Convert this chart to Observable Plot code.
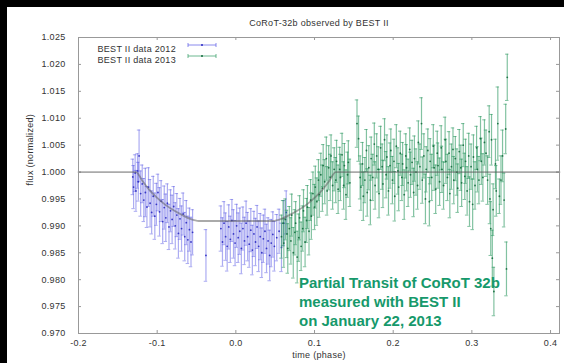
<!DOCTYPE html>
<html>
<head>
<meta charset="utf-8">
<script src="https://cdn.jsdelivr.net/npm/d3@7"></script>
<script src="https://cdn.jsdelivr.net/npm/@observablehq/plot@0.6"></script>
<style>
  html, body { margin: 0; padding: 0; background: #000; width: 564px; height: 363px; overflow: hidden; }
  #wrap { position: absolute; left: 7px; top: 7px; width: 557px; height: 356px; background: #fff; }
  #wrap svg text { letter-spacing: 0.3px; }
  #note { position: absolute; left: 292px; top: 266px; font-family: "Liberation Sans", Arial, sans-serif;
          font-weight: bold; font-size: 15px; line-height: 19px; color: #16996b; white-space: pre; }
</style>
</head>
<body>
<div id="wrap"></div>
<script>
const titleText = "CoRoT-32b observed by BEST II";
const xLabel = "time (phase)";
const yLabel = "flux (normalized)";
const seriesNames = ["BEST II data 2012", "BEST II data 2013"];
const noteText = "Partial Transit of CoRoT 32b\nmeasured with BEST II\non January 22, 2013";
const xTicks = [-0.2, -0.1, 0.0, 0.1, 0.2, 0.3, 0.4];
const yTicks = [0.970, 0.975, 0.980, 0.985, 0.990, 0.995, 1.000, 1.005, 1.010, 1.015, 1.020, 1.025];

// [phase, flux, error]
const data2012 = [
[-0.131,0.9991,0.0033],[-0.130,0.9972,0.0040],[-0.128,0.9998,0.0034],[-0.127,0.9965,0.0038],
[-0.125,1.0002,0.0032],[-0.124,0.9982,0.0036],[-0.123,1.0030,0.0048],[-0.121,0.9960,0.0042],
[-0.119,0.9978,0.0035],[-0.117,0.9948,0.0040],[-0.115,0.9962,0.0045],[-0.113,0.9935,0.0038],
[-0.111,0.9972,0.0036],[-0.109,0.9942,0.0044],[-0.107,0.9925,0.0040],[-0.105,0.9955,0.0037],
[-0.103,0.9918,0.0043],[-0.101,0.9940,0.0039],[-0.099,0.9962,0.0034],[-0.097,0.9926,0.0045],
[-0.095,0.9946,0.0038],[-0.093,0.9908,0.0041],[-0.091,0.9934,0.0040],[-0.089,0.9915,0.0044],
[-0.087,0.9942,0.0036],[-0.085,0.9898,0.0042],[-0.083,0.9928,0.0039],[-0.081,0.9912,0.0045],
[-0.079,0.9936,0.0037],[-0.077,0.9900,0.0043],[-0.075,0.9920,0.0040],[-0.073,0.9886,0.0046],
[-0.071,0.9913,0.0038],[-0.069,0.9895,0.0042],[-0.067,0.9922,0.0039],[-0.065,0.9880,0.0045],
[-0.063,0.9906,0.0041],[-0.061,0.9874,0.0044],[-0.059,0.9893,0.0040],[-0.057,0.9870,0.0046],
[-0.055,0.9888,0.0042],[-0.038,0.9845,0.0048],
[-0.019,0.9895,0.0042],[-0.017,0.9870,0.0045],[-0.015,0.9905,0.0040],[-0.013,0.9880,0.0044],
[-0.011,0.9862,0.0046],[-0.009,0.9898,0.0041],[-0.007,0.9875,0.0043],[-0.005,0.9910,0.0039],
[-0.003,0.9885,0.0045],[-0.001,0.9868,0.0042],[0.001,0.9900,0.0040],[0.003,0.9878,0.0046],
[0.005,0.9890,0.0043],[0.007,0.9858,0.0047],[0.009,0.9895,0.0040],[0.011,0.9872,0.0044],
[0.013,0.9905,0.0041],[0.015,0.9880,0.0045],[0.017,0.9866,0.0043],[0.019,0.9892,0.0040],
[0.021,0.9855,0.0046],[0.023,0.9885,0.0042],[0.025,0.9870,0.0044],[0.027,0.9898,0.0040],
[0.029,0.9862,0.0047],[0.031,0.9880,0.0043],[0.033,0.9850,0.0046],[0.035,0.9876,0.0044],
[0.037,0.9890,0.0041],[0.039,0.9858,0.0045],[0.041,0.9872,0.0043],[0.043,0.9845,0.0047],
[0.045,0.9868,0.0044],[0.047,0.9884,0.0042],[0.049,0.9862,0.0046],[0.052,0.9878,0.0043],
[0.055,0.9890,0.0041],[0.058,0.9860,0.0045],[0.061,0.9905,0.0042],[0.064,0.9925,0.0040]
];

const data2013 = [
[0.058,0.9880,0.0040],[0.060,0.9905,0.0042],[0.061,0.9868,0.0045],[0.063,0.9912,0.0038],
[0.065,0.9885,0.0044],[0.066,0.9858,0.0046],[0.068,0.9895,0.0041],[0.070,0.9872,0.0043],
[0.071,0.9920,0.0039],[0.073,0.9850,0.0047],[0.075,0.9888,0.0042],[0.076,0.9905,0.0040],
[0.078,0.9842,0.0048],[0.080,0.9878,0.0044],[0.081,0.9915,0.0041],[0.083,0.9862,0.0045],
[0.085,0.9895,0.0042],[0.086,0.9928,0.0039],[0.088,0.9870,0.0046],[0.090,0.9910,0.0041],
[0.091,0.9935,0.0040],[0.093,0.9890,0.0044],[0.095,0.9948,0.0038],[0.096,0.9918,0.0043],
[0.098,0.9960,0.0040],[0.100,0.9935,0.0042],[0.101,0.9972,0.0039],[0.103,0.9945,0.0044],
[0.105,0.9985,0.0038],[0.106,0.9958,0.0042],[0.108,0.9995,0.0040],[0.110,0.9970,0.0043],
[0.111,1.0012,0.0039],[0.113,0.9982,0.0041],[0.115,1.0025,0.0040],[0.116,0.9965,0.0045],
[0.118,1.0008,0.0041],[0.120,0.9990,0.0043],[0.121,1.0030,0.0039],[0.123,0.9975,0.0044],
[0.125,1.0005,0.0040],
[0.127,0.9985,0.0042],[0.128,1.0020,0.0039],[0.130,0.9968,0.0045],[0.132,1.0005,0.0041],
[0.133,0.9990,0.0043],[0.135,1.0032,0.0040],[0.137,0.9975,0.0044],[0.138,1.0012,0.0041],
[0.140,0.9958,0.0046],[0.142,0.9995,0.0042],[0.143,1.0018,0.0040],[0.145,0.9980,0.0044],
[0.154,1.0090,0.0044],[0.156,1.0062,0.0042],[0.158,0.9990,0.0040],
[0.159,0.9972,0.0043],[0.161,1.0015,0.0040],[0.162,0.9955,0.0045],[0.164,0.9985,0.0042],
[0.166,1.0040,0.0039],[0.167,0.9962,0.0044],[0.169,1.0008,0.0041],[0.171,0.9948,0.0046],
[0.172,1.0025,0.0040],[0.174,0.9990,0.0043],[0.176,1.0052,0.0039],[0.177,0.9975,0.0044],
[0.179,1.0030,0.0041],[0.181,1.0005,0.0042],[0.182,0.9960,0.0045],[0.184,1.0045,0.0040],
[0.186,1.0010,0.0042],[0.187,0.9978,0.0044],[0.189,1.0060,0.0039],[0.191,0.9995,0.0043],
[0.192,1.0028,0.0041],[0.194,0.9965,0.0045],[0.196,1.0012,0.0042],[0.197,1.0040,0.0040],
[0.199,0.9985,0.0044],[0.201,1.0020,0.0041],[0.202,0.9955,0.0046],[0.204,1.0048,0.0040],
[0.206,1.0002,0.0043],[0.207,0.9972,0.0044],[0.209,1.0035,0.0041],[0.211,0.9990,0.0043],
[0.212,1.0015,0.0040],[0.214,0.9958,0.0046],[0.216,1.0030,0.0041],[0.217,1.0008,0.0043],
[0.219,0.9980,0.0044],[0.221,1.0042,0.0040],[0.222,0.9995,0.0042],[0.224,1.0018,0.0041],
[0.226,0.9962,0.0045],[0.227,1.0025,0.0042],[0.229,1.0000,0.0043],[0.231,0.9975,0.0044],
[0.232,1.0055,0.0040],[0.234,1.0010,0.0042],[0.236,1.0090,0.0048],[0.237,0.9985,0.0043],
[0.239,1.0030,0.0041],[0.241,0.9950,0.0046],[0.242,1.0005,0.0042],[0.244,1.0040,0.0040],
[0.246,0.9945,0.0045],[0.247,1.0020,0.0042],[0.249,0.9990,0.0043],[0.251,1.0048,0.0040],
[0.252,1.0008,0.0042],[0.254,0.9968,0.0045],[0.256,1.0035,0.0041],[0.257,1.0012,0.0042],
[0.259,0.9982,0.0044],
[0.261,1.0045,0.0041],[0.262,1.0005,0.0043],[0.264,0.9975,0.0044],[0.266,1.0060,0.0042],
[0.267,1.0020,0.0041],[0.269,0.9990,0.0043],[0.271,1.0035,0.0040],[0.272,0.9960,0.0045],
[0.274,1.0010,0.0042],[0.276,1.0042,0.0040],[0.277,0.9985,0.0044],[0.279,1.0025,0.0041],
[0.281,1.0000,0.0043],[0.282,0.9970,0.0045],[0.284,1.0038,0.0041],[0.286,1.0008,0.0042],
[0.287,0.9980,0.0044],[0.289,1.0050,0.0040],[0.291,0.9992,0.0043],[0.292,1.0020,0.0041],
[0.294,0.9965,0.0045],[0.296,1.0030,0.0042],[0.297,0.9945,0.0046],[0.299,1.0010,0.0042],
[0.301,0.9940,0.0047],[0.302,1.0028,0.0041],[0.304,0.9975,0.0044],[0.306,1.0045,0.0040],
[0.307,1.0005,0.0042],[0.309,0.9985,0.0044],[0.311,1.0062,0.0041],[0.312,1.0020,0.0043],
[0.314,0.9990,0.0044],[0.316,1.0055,0.0042],[0.318,1.0035,0.0043],[0.320,0.9985,0.0045],
[0.322,1.0075,0.0048],[0.323,0.9950,0.0046],[0.324,0.9895,0.0050],[0.325,1.0060,0.0047],
[0.326,0.9840,0.0052],[0.327,0.9930,0.0048],[0.328,0.9778,0.0045],[0.330,1.0015,0.0046],
[0.331,0.9965,0.0047],[0.333,1.0090,0.0068],[0.335,0.9955,0.0032],[0.337,0.9985,0.0045],
[0.339,1.0030,0.0048],[0.341,0.9948,0.0050],[0.343,1.0080,0.0046],[0.344,0.9820,0.0050],
[0.345,1.0176,0.0043]
];

// fitted transit model
const modelPhase = [-0.2, -0.127, -0.118, -0.110, -0.100, -0.0895, -0.078, -0.068, -0.058, -0.047,
                    0.047, 0.058, 0.068, 0.078, 0.0895, 0.100, 0.110, 0.118, 0.127, 0.4114];
const modelFlux  = [1.000, 1.000, 0.9982, 0.9967, 0.9952, 0.9939, 0.9928, 0.9920, 0.9913, 0.9909,
                    0.9909, 0.9913, 0.9920, 0.9928, 0.9939, 0.9952, 0.9967, 0.9982, 1.000, 1.000];

const model = modelPhase.map((p, i) => ({p, f: modelFlux[i]}));
const W = 557, H = 356, mL = 71, mR = 5, mT = 30, mB = 30;
const fw = W - mL - mR, fh = H - mT - mB;
const cap = 0.0022;
const font = "'Liberation Sans', Arial, Helvetica, sans-serif";

function errMarks(data, barColor, dotColor, op) {
  return [
    Plot.ruleX(data, {x: d => d[0], y1: d => d[1] - d[2], y2: d => d[1] + d[2], stroke: barColor, strokeOpacity: op, strokeWidth: 1.2}),
    Plot.ruleY(data, {y: d => d[1] + d[2], x1: d => d[0] - cap, x2: d => d[0] + cap, stroke: barColor, strokeOpacity: op, strokeWidth: 1}),
    Plot.ruleY(data, {y: d => d[1] - d[2], x1: d => d[0] - cap, x2: d => d[0] + cap, stroke: barColor, strokeOpacity: op, strokeWidth: 1}),
    Plot.dot(data, {x: d => d[0], y: d => d[1], r: 0.9, fill: dotColor, stroke: null, fillOpacity: 0.9})
  ];
}

const chart = Plot.plot({
  width: W, height: H, marginLeft: mL, marginRight: mR, marginTop: mT, marginBottom: mB,
  style: {fontFamily: font, fontSize: "9px", color: "#333", background: "white"},
  x: {domain: [-0.2, 0.4114]},
  y: {domain: [0.970, 1.025]},
  marks: [
    Plot.axisX({ticks: xTicks, tickSize: 0, tickPadding: 6, tickFormat: d => d.toFixed(1), label: null, fill: "#333"}),
    Plot.axisY({ticks: yTicks, tickSize: 0, tickPadding: 13, tickFormat: d => d.toFixed(3), label: null, fill: "#333"}),
    Plot.ruleY(yTicks, {y: d => d, insetRight: fw - 3, stroke: "#999"}),
    Plot.ruleY(yTicks, {y: d => d, insetLeft: fw - 3, stroke: "#999"}),
    Plot.ruleX(xTicks, {x: d => d, insetTop: fh - 3, stroke: "#999"}),
    Plot.ruleX(xTicks, {x: d => d, insetBottom: fh - 3, stroke: "#999"}),
    ...errMarks(data2012, "#5a5ae6", "#2828c0", 0.5),
    ...errMarks(data2013, "#2f9a62", "#136a3c", 0.6),
    Plot.line(model, {x: "p", y: "f", curve: "monotone-x", stroke: "#555", strokeOpacity: 0.5, strokeWidth: 1.8}),
    Plot.frame({stroke: "#999"}),
    Plot.text([titleText], {frameAnchor: "top", dy: -18, fill: "#333", fontSize: 9}),
    Plot.text([xLabel], {frameAnchor: "bottom", dy: 24, fill: "#333", fontSize: 9}),
    Plot.text([yLabel], {frameAnchor: "left", dx: -48, rotate: -90, fill: "#333", fontSize: 9}),
    Plot.text([seriesNames[0]], {frameAnchor: "top-left", dx: 19, dy: 8, textAnchor: "start", fill: "#333", fontSize: 9}),
    Plot.text([seriesNames[1]], {frameAnchor: "top-left", dx: 19, dy: 19, textAnchor: "start", fill: "#333", fontSize: 9})
  ]
});
document.getElementById("wrap").appendChild(chart);

// legend samples (errorbar style keys)
const svg = d3.select(chart);
const keys = [{y: 38, c: "#5a5ae6", d: "#2828c0"}, {y: 49, c: "#2f9a62", d: "#136a3c"}];
const g = svg.append("g");
keys.forEach(k => {
  g.append("line").attr("x1", 181).attr("x2", 209).attr("y1", k.y).attr("y2", k.y).attr("stroke", k.c).attr("stroke-opacity", 0.7);
  g.append("line").attr("x1", 181).attr("x2", 181).attr("y1", k.y - 2).attr("y2", k.y + 2).attr("stroke", k.c).attr("stroke-opacity", 0.7);
  g.append("line").attr("x1", 209).attr("x2", 209).attr("y1", k.y - 2).attr("y2", k.y + 2).attr("stroke", k.c).attr("stroke-opacity", 0.7);
  g.append("circle").attr("cx", 195).attr("cy", k.y).attr("r", 1).attr("fill", k.d);
});

const note = document.createElement("div");
note.id = "note";
note.textContent = noteText;
document.getElementById("wrap").appendChild(note);
</script>
</body>
</html>
